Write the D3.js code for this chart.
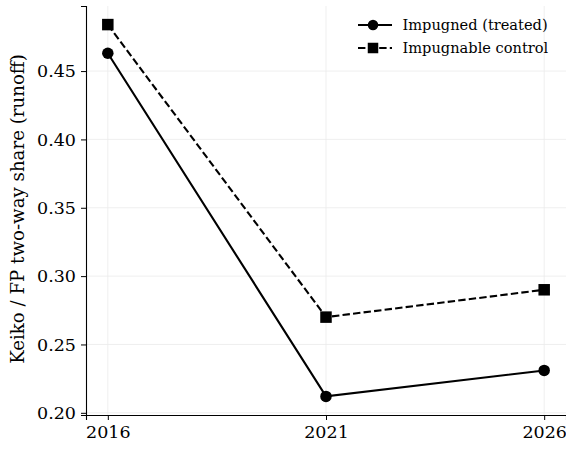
<!DOCTYPE html>
<html>
<head>
<meta charset="utf-8">
<script src="https://cdn.jsdelivr.net/npm/d3@7"></script>
<style>
  html, body { margin: 0; padding: 0; background: #fff; }
  svg { display: block; }
</style>
</head>
<body>
<svg id="chart" width="566" height="449"></svg>
<script>
// Election years and runoff two-way share for each group
const years = [2016, 2021, 2026];
const treatedShare = [0.463, 0.212, 0.231];
const controlShare = [0.484, 0.270, 0.290];
const seriesNames = ["Impugned (treated)", "Impugnable control"];
const yTicks = [0.20, 0.25, 0.30, 0.35, 0.40, 0.45];
const yLabel = "Keiko / FP two-way share (runoff)";

const FONT = "DejaVu Serif";
const series = [
  { name: seriesNames[0], values: treatedShare, marker: "circle", dash: null },
  { name: seriesNames[1], values: controlShare, marker: "square", dash: "7.4,3.2" }
];

const svg = d3.select("#chart");
const m = { left: 86, right: 0, top: 6, bottom: 34 };
const W = 566, H = 449;

const x = d3.scaleLinear().domain([2015.5, 2026.5]).range([m.left, W - m.right]);
const allVals = treatedShare.concat(controlShare);
const yMin = d3.min(allVals), yMax = d3.max(allVals), pad = (yMax - yMin) * 0.05;
const y = d3.scaleLinear().domain([yMin - pad, yMax + pad]).range([H - m.bottom, m.top]);

// Grid
const grid = svg.append("g").attr("stroke", "#ebebeb").attr("stroke-width", 0.8);
grid.selectAll(".gy").data(yTicks).join("line")
  .attr("x1", m.left).attr("x2", W - m.right)
  .attr("y1", d => y(d)).attr("y2", d => y(d));
grid.selectAll(".gx").data(years).join("line")
  .attr("y1", m.top).attr("y2", H - m.bottom)
  .attr("x1", d => x(d)).attr("x2", d => x(d));

// Axes
const xAxis = svg.append("g")
  .attr("transform", `translate(0,${H - m.bottom})`)
  .call(d3.axisBottom(x).tickValues(years).tickFormat(d3.format("d")).tickSizeOuter(0).tickSize(5).tickPadding(4));
const yAxis = svg.append("g")
  .attr("transform", `translate(${m.left},0)`)
  .call(d3.axisLeft(y).tickValues(yTicks).tickFormat(d3.format(".2f")).tickSizeOuter(0).tickSize(5).tickPadding(5));
[xAxis, yAxis].forEach(a => {
  a.selectAll("text").style("font-family", FONT).style("font-size", "17.5px").attr("fill", "#000");
  a.selectAll("line").attr("stroke", "#000").attr("stroke-width", 1);
  a.select(".domain").attr("stroke", "#000").attr("stroke-width", 1.1);
});
xAxis.selectAll("text").attr("dy", "0.78em");

svg.append("text")
  .attr("transform", `translate(24,209) rotate(-90)`)
  .attr("text-anchor", "middle")
  .style("font-family", FONT).style("font-size", "18.2px")
  .text(yLabel);

// Lines and markers
const line = d3.line().x((d, i) => x(years[i])).y(d => y(d));
function drawMarker(g, type, cx, cy, s) {
  if (type === "circle") {
    g.append("circle").attr("cx", cx).attr("cy", cy).attr("r", s / 2).attr("fill", "#000");
  } else {
    g.append("rect").attr("x", cx - s / 2).attr("y", cy - s / 2).attr("width", s).attr("height", s).attr("fill", "#000");
  }
}
series.forEach(s => {
  svg.append("path").datum(s.values)
    .attr("d", line).attr("fill", "none").attr("stroke", "#000")
    .attr("stroke-width", 2.1).attr("stroke-dasharray", s.dash);
  const g = svg.append("g");
  s.values.forEach((v, i) => drawMarker(g, s.marker, x(years[i]), y(v), 11.5));
});

// Legend
const lg = svg.append("g").attr("transform", "translate(358,25)");
series.forEach((s, i) => {
  const row = lg.append("g").attr("transform", `translate(0,${i * 23})`);
  row.append("line").attr("x1", 0).attr("x2", 34).attr("y1", 0).attr("y2", 0)
    .attr("stroke", "#000").attr("stroke-width", 2.1).attr("stroke-dasharray", s.dash);
  drawMarker(row, s.marker, 15, 0, 10.5);
  row.append("text").attr("x", 44.5).attr("y", 0).attr("dy", "0.36em")
    .style("font-family", FONT).style("font-size", "14.6px").text(s.name);
});
</script>
</body>
</html>
